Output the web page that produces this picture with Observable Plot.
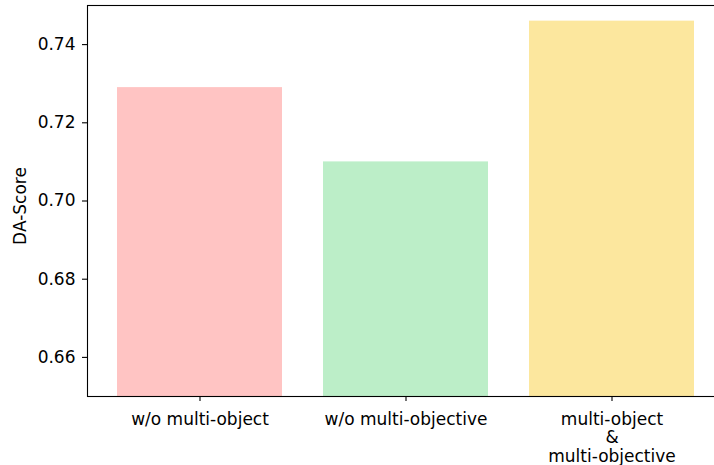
<!DOCTYPE html>
<html>
<head>
<meta charset="utf-8">
<script src="https://cdn.jsdelivr.net/npm/d3@7"></script>
<script src="https://cdn.jsdelivr.net/npm/@observablehq/plot@0.6"></script>
<style>
  html, body { margin: 0; padding: 0; background: white; overflow: hidden; }
  #chart svg { max-width: none !important; }
</style>
</head>
<body>
<div id="chart"></div>
<script>
const categories = ["w/o multi-object", "w/o multi-objective", "multi-object\n&\nmulti-objective"];
const scores = [0.729, 0.710, 0.746];
const colors = ["#FFC4C3", "#BCEEC8", "#FCE79E"];
const yTicks = [0.66, 0.68, 0.70, 0.72, 0.74];
const yLabel = "DA-Score";

const data = categories.map((c, i) => ({category: c, score: scores[i], color: colors[i]}));

const chart = Plot.plot({
  width: 714,
  height: 465,
  marginLeft: 87,
  marginRight: -10,
  marginTop: 5,
  marginBottom: 69,
  style: {fontFamily: "'DejaVu Sans', sans-serif", fontSize: "17px", color: "black", background: "white"},
  x: {domain: categories, paddingInner: 0.2, paddingOuter: 0.142, label: null},
  y: {domain: [0.65, 0.75], label: null},
  marks: [
    Plot.barY(data, {x: "category", y1: 0.65, y2: "score", fill: "color"}),
    Plot.frame({stroke: "black", strokeWidth: 1.1}),
    Plot.axisY({ticks: yTicks, tickFormat: d3.format(".2f"), tickSize: 5, tickPadding: 7, stroke: "black", strokeWidth: 1.1, fill: "black", fontSize: 17, label: null}),
    Plot.axisX({tickSize: 5, tickPadding: 10, stroke: "black", strokeWidth: 1.1, fill: "black", fontSize: 17, lineHeight: 1.1, label: null}),
    Plot.text([yLabel], {frameAnchor: "left", dx: -67, dy: 5, rotate: -90, text: d => d, fontSize: 17, fill: "black", textAnchor: "middle"})
  ]
});
document.getElementById("chart").appendChild(chart);
</script>
</body>
</html>
